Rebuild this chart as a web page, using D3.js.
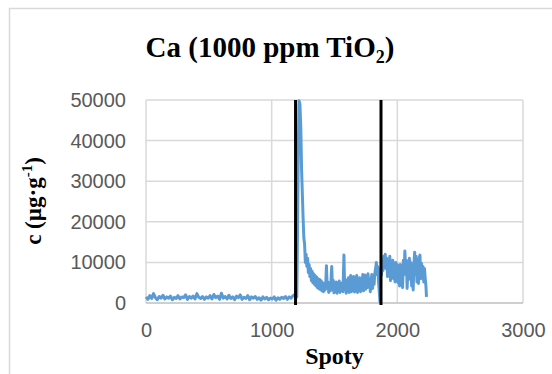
<!DOCTYPE html>
<html>
<head>
<meta charset="utf-8">
<script src="https://cdn.jsdelivr.net/npm/d3@7"></script>
<style>
  body { margin: 0; background: #fff; }
  svg { display: block; }
</style>
</head>
<body>
<div id="chart"></div>
<script>
// values
const spots = [
  0, 15, 30, 45, 60, 75, 90, 105, 120, 135, 150, 165, 180, 195, 210, 225, 240, 255, 270, 285,
  300, 315, 330, 345, 360, 375, 390, 405, 420, 435, 450, 465, 480, 495, 510, 525, 540, 555, 570, 585,
  600, 615, 630, 645, 660, 675, 690, 705, 720, 735, 750, 765, 780, 795, 810, 825, 840, 855, 870, 885,
  900, 915, 930, 945, 960, 975, 990, 1005, 1020, 1035, 1050, 1065, 1080, 1095, 1110, 1125, 1140, 1155, 1170, 1185,
  1192, 1200, 1206, 1212, 1218, 1225, 1232, 1238, 1244, 1250, 1256, 1262, 1268,
  1274, 1280, 1286, 1292, 1298, 1304, 1310, 1316, 1322, 1328, 1334, 1340, 1346, 1352, 1358, 1364, 1370, 1376, 1382, 1388,
  1394, 1400, 1406, 1412, 1418, 1424, 1430, 1436, 1442, 1448, 1454, 1460, 1466, 1472, 1478, 1484, 1490, 1496, 1502, 1508,
  1514, 1520, 1526, 1532, 1538, 1544, 1550, 1556, 1562, 1568, 1575, 1581, 1587, 1593, 1599, 1605, 1611, 1617, 1623, 1629,
  1635, 1641, 1647, 1653, 1659, 1665, 1671, 1677, 1683, 1689, 1695, 1701, 1707, 1713, 1719, 1725, 1731, 1737, 1743, 1749,
  1755, 1761, 1767, 1773, 1779, 1785, 1791, 1797, 1803, 1809, 1815, 1821, 1827, 1833, 1839, 1845, 1851, 1857, 1862, 1868,
  1874, 1880, 1886, 1892, 1898, 1904, 1910, 1916, 1922, 1928, 1934, 1940, 1946, 1952, 1958, 1964, 1970, 1976, 1982, 1988,
  1994, 2000, 2006, 2012, 2018, 2024, 2030, 2036, 2042, 2048, 2054, 2060, 2066, 2072, 2078, 2084, 2090, 2096, 2102, 2108,
  2114, 2120, 2126, 2132, 2138, 2144, 2150, 2156, 2162, 2168, 2174, 2180, 2186, 2192, 2198, 2204, 2210, 2216, 2222, 2228, 2232
];
const caValues = [
  1500, 900, 1800, 1100, 2300, 1300, 800, 1600, 1200, 1900, 1000, 1500, 1200, 1700, 800, 1400, 1100, 1800, 1000, 1500,
  1300, 2000, 900, 1600, 1200, 1700, 1000, 2300, 1400, 1100, 1600, 900, 1500, 1200, 1800, 1000, 2100, 1300, 1700, 900,
  2400, 1200, 1600, 1000, 1900, 1100, 1500, 800, 1700, 1300, 2000, 900, 1400, 1100, 1800, 800, 1500, 1200, 1600, 900,
  1300, 700, 1500, 1000, 1400, 800, 1200, 1000, 1500, 700, 1300, 900, 1400, 1100, 1600, 900, 1500, 1200, 1800, 2100,
  2200, 1500, 18000, 38000, 49800, 49000, 43000, 33000, 27000, 21000, 16000, 14500, 10000,
  12000, 9000, 11000, 7500, 9500, 6500, 8500, 5500, 7800, 5000, 7200, 4600, 6800, 4200, 6400, 3800, 6000, 3500, 5800, 3300,
  5500, 3000, 5000, 2800, 4800, 3200, 4500, 9200, 3600, 5200, 2600, 4700, 3000, 5500, 9000, 3200, 5600, 2500, 4800, 3200,
  5200, 2400, 4600, 3000, 5400, 2600, 4400, 3400, 5000, 2800, 11800, 3600, 5800, 2400, 5000, 3000, 6200, 2600, 4800, 6800,
  2800, 5600, 3200, 6500, 2700, 5400, 3600, 6800, 2600, 5000, 3400, 6200, 2800, 5600, 3600, 7000, 3000, 5800, 6900, 3400,
  6400, 3800, 7200, 4000, 6000, 2800, 5600, 7000, 3600, 6200, 4600, 7400, 8400, 10000, 7000, 9000, 5000, 2500, 300, 8500,
  7000, 10000, 8000, 11500, 9000, 12000, 8500, 11000, 6500, 10500, 7000, 11500, 5500, 9800, 7200, 10500, 6000, 9000, 5200, 10000,
  6800, 9500, 5000, 8800, 4200, 9500, 6500, 8800, 3800, 10500, 7000, 12800, 8000, 10500, 3600, 8500, 5800, 11000, 7500, 10000,
  4200, 8000, 3200, 9500, 12500, 7000, 11500, 5200, 9500, 4800, 11000, 11800, 6000, 9800, 6800, 9000, 5200, 8500, 6000, 4000, 1500
];
const xTicks = [0, 1000, 2000, 3000];
const yTicks = [0, 10000, 20000, 30000, 40000, 50000];
const boundaries = [1190, 1870];

const W = 552, H = 374;
const svg = d3.select("#chart").append("svg").attr("width", W).attr("height", H);

// chart area frame
svg.append("rect")
  .attr("x", 9.5).attr("y", 8.5).attr("width", 560).attr("height", 380)
  .attr("fill", "#fff").attr("stroke", "#d9d9d9").attr("stroke-width", 1.5);

const x = d3.scaleLinear().domain([0, 3000]).range([146, 523]);
const y = d3.scaleLinear().domain([0, 50000]).range([303, 100]);

// gridlines
svg.append("g").selectAll("line").data(yTicks.filter(d => d > 0)).join("line")
  .attr("x1", x(0)).attr("x2", x(3000))
  .attr("y1", d => y(d)).attr("y2", d => y(d))
  .attr("stroke", "#d9d9d9").attr("stroke-width", 1.5);
svg.append("g").selectAll("line").data(xTicks).join("line")
  .attr("x1", d => x(d)).attr("x2", d => x(d))
  .attr("y1", y(0)).attr("y2", y(50000))
  .attr("stroke", "#d9d9d9").attr("stroke-width", 1.5);
svg.append("line")
  .attr("x1", x(0)).attr("x2", x(3000)).attr("y1", y(0)).attr("y2", y(0))
  .attr("stroke", "#bfbfbf").attr("stroke-width", 1.5);

// tick labels via d3 axes
const xAxis = svg.append("g")
  .attr("transform", `translate(0,${y(0)})`)
  .call(d3.axisBottom(x).tickValues(xTicks).tickSize(0).tickPadding(20).tickFormat(d3.format("d")));
const yAxis = svg.append("g")
  .attr("transform", `translate(${x(0)},0)`)
  .call(d3.axisLeft(y).tickValues(yTicks).tickSize(0).tickPadding(20).tickFormat(d3.format("d")));
[xAxis, yAxis].forEach(a => {
  a.select(".domain").remove();
  a.selectAll("text")
    .attr("fill", "#595959")
    .style("font-family", "'Liberation Sans', Arial, sans-serif")
    .style("font-size", "20px");
});

// series
const line = d3.line().x((d, i) => x(spots[i])).y(d => y(d));
svg.append("path")
  .datum(caValues)
  .attr("d", line)
  .attr("fill", "none")
  .attr("stroke", "#5b9bd5")
  .attr("stroke-width", 3)
  .attr("stroke-linejoin", "round");

// boundary markers
svg.append("g").selectAll("line").data(boundaries).join("line")
  .attr("x1", d => x(d)).attr("x2", d => x(d))
  .attr("y1", y(50000)).attr("y2", y(-500))
  .attr("stroke", "#000").attr("stroke-width", 3);

// titles
const serif = "'Liberation Serif', 'Times New Roman', serif";
const title = svg.append("text")
  .attr("x", 270).attr("y", 57)
  .attr("text-anchor", "middle")
  .style("font-family", serif).style("font-weight", "bold").style("font-size", "29px")
  .attr("fill", "#000");
title.append("tspan").text("Ca (1000 ppm TiO");
title.append("tspan").attr("dy", 6).style("font-size", "18px").text("2");
title.append("tspan").attr("dy", -6).text(")");

svg.append("text")
  .attr("x", (x(0) + x(3000)) / 2).attr("y", 364)
  .attr("text-anchor", "middle")
  .style("font-family", serif).style("font-weight", "bold").style("font-size", "24px")
  .text("Spoty");

const yTitle = svg.append("text")
  .attr("transform", "translate(41,201) rotate(-90)")
  .attr("text-anchor", "middle")
  .style("font-family", serif).style("font-weight", "bold").style("font-size", "23px");
yTitle.append("tspan").text("c (µg·g");
yTitle.append("tspan").attr("dy", -9).style("font-size", "15px").text("-1");
yTitle.append("tspan").attr("dy", 9).text(")");
</script>
</body>
</html>
